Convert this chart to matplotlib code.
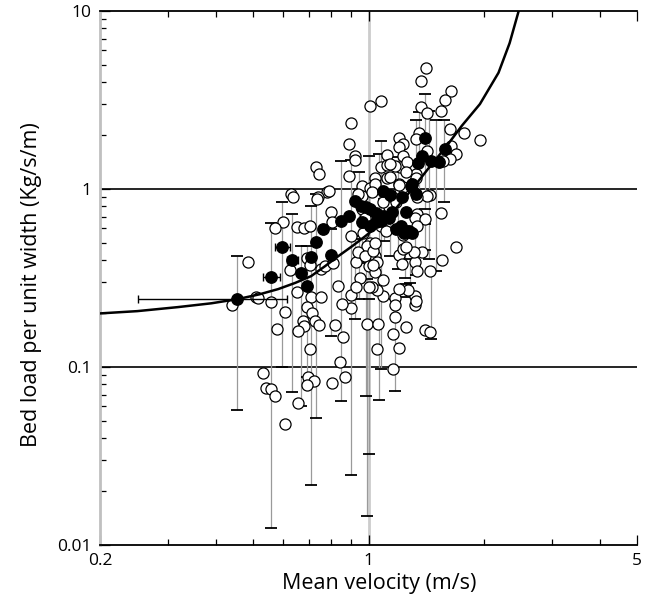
import matplotlib
matplotlib.use("Agg")
import matplotlib.pyplot as plt
import numpy as np

plt.rcParams['font.family'] = ['Open Sans', 'DejaVu Sans']

# open circles: mean velocity (m/s), bed load (kg/s/m)
open_vel = [1.41, 1.37, 1.64, 1.58, 1.08, 1.01, 1.37, 1.42, 1.54, 0.90,
            1.63, 1.77, 1.95, 1.35, 1.33, 1.20, 1.23, 1.20, 0.89, 0.92,
            0.925, 1.115, 1.42, 1.23, 1.64, 1.69, 1.63, 1.56, 1.21, 1.26,
            1.17, 0.73, 0.745, 0.89, 1.075, 1.115, 1.14, 1.12, 1.04, 1.33,
            1.33, 1.25, 0.96, 1.01, 1.04, 1.135, 1.20, 1.21, 0.78, 0.74,
            0.63, 0.637, 0.735, 0.80, 0.805, 0.60, 0.57, 0.65, 0.68, 0.705,
            1.45, 1.42, 1.34, 1.23, 1.20, 0.96, 1.02, 0.79, 1.15, 1.13,
            0.96, 0.98, 0.90, 0.965, 1.075, 1.11, 1.26, 1.34, 1.32, 1.40,
            1.34, 1.54, 1.69, 1.55, 0.93, 1.01, 0.99, 1.04, 1.05, 0.94,
            1.20, 1.22, 1.32, 1.375, 1.23, 0.486, 0.69, 0.705, 0.75, 0.77,
            0.81, 0.98, 1.00, 1.34, 1.45, 0.95, 1.04, 0.625, 0.51, 0.516,
            0.44, 0.558, 0.607, 0.65, 0.71, 0.754, 0.835, 0.69, 0.714, 0.677,
            0.68, 0.727, 0.745, 0.657, 0.578, 0.706, 0.82, 0.86, 0.845, 0.90,
            0.90, 0.93, 0.99, 1.06, 1.09, 1.17, 1.17, 1.17, 1.155, 1.25,
            1.20, 1.05, 1.16, 1.40, 1.45, 1.32, 1.32, 0.532, 0.542, 0.558,
            0.572, 0.657, 0.607, 0.697, 0.72, 0.69, 0.805, 0.87, 1.265, 1.326,
            1.05, 1.02, 1.09, 0.855, 1.00, 0.94, 1.09, 1.18, 1.03, 1.03,
            1.31, 1.25, 1.20, 1.04, 1.23]
open_load = [4.79, 4.04, 3.55, 3.16, 3.12, 2.93, 2.89, 2.67, 2.74, 2.35,
             2.17, 2.06, 1.89, 2.06, 1.91, 1.94, 1.79, 1.72, 1.79, 1.53,
             1.46, 1.55, 1.64, 1.53, 1.75, 1.57, 1.47, 1.44, 1.33, 1.42,
             1.35, 1.33, 1.21, 1.18, 1.33, 1.36, 1.38, 1.15, 1.15, 1.21,
             1.15, 1.25, 1.04, 1.01, 1.07, 1.17, 1.07, 1.00, 0.96, 0.90,
             0.94, 0.90, 0.88, 0.74, 0.65, 0.65, 0.60, 0.61, 0.60, 0.62,
             0.925, 0.91, 0.90, 1.03, 1.05, 0.91, 0.96, 0.975, 0.845, 0.79,
             0.77, 0.69, 0.545, 0.565, 0.62, 0.58, 0.58, 0.72, 0.69, 0.68,
             0.62, 0.73, 0.47, 0.40, 0.39, 0.50, 0.48, 0.42, 0.39, 0.44,
             0.425, 0.38, 0.39, 0.44, 0.46, 0.39, 0.41, 0.375, 0.355, 0.37,
             0.385, 0.42, 0.37, 0.345, 0.345, 0.315, 0.34, 0.35, 0.247, 0.244,
             0.223, 0.232, 0.204, 0.264, 0.247, 0.247, 0.285, 0.217, 0.20, 0.181,
             0.17, 0.181, 0.172, 0.159, 0.163, 0.126, 0.172, 0.148, 0.107, 0.253,
             0.215, 0.281, 0.174, 0.174, 0.25, 0.244, 0.223, 0.191, 0.153, 0.168,
             0.128, 0.126, 0.098, 0.161, 0.157, 0.25, 0.223, 0.0925, 0.076, 0.0754,
             0.069, 0.063, 0.048, 0.088, 0.083, 0.0795, 0.081, 0.088, 0.27, 0.235,
             0.27, 0.28, 0.31, 0.226, 0.281, 0.94, 0.845, 0.845, 0.45, 0.375,
             0.443, 0.47, 0.274, 0.50, 0.55]

# filled circles
fill_vel = [0.455, 0.558, 0.596, 0.633, 0.669, 0.693, 0.710, 0.732, 0.763, 0.80,
            0.85, 0.892, 0.925, 0.954, 0.983, 1.012, 1.049, 0.96, 1.012, 1.049,
            1.081, 1.094, 1.128, 1.148, 1.094, 1.14, 1.219, 1.287, 1.326, 1.176,
            1.25, 1.212, 1.234, 1.272, 1.295, 1.40, 1.342, 1.374, 1.452, 1.523,
            1.578, 1.30]
fill_load = [0.241, 0.32, 0.472, 0.399, 0.337, 0.285, 0.415, 0.504, 0.596, 0.426,
             0.661, 0.705, 0.856, 0.803, 0.792, 0.772, 0.733, 0.652, 0.62, 0.652,
             0.661, 0.705, 0.687, 0.742, 0.975, 0.925, 0.902, 1.04, 0.937, 0.596,
             0.742, 0.62, 0.566, 0.58, 0.566, 1.935, 1.40, 1.53, 1.436, 1.418,
             1.68, 1.07]

# horizontal error bars on filled points
hbar_load = [0.241, 0.32, 0.472, 0.399]
hbar_lo = [0.251, 0.532, 0.571, 0.614]
hbar_hi = [0.615, 0.589, 0.625, 0.657]

# vertical error bars
vbar_vel = [0.455, 0.558, 0.596, 0.633, 0.669, 0.710, 0.732, 0.693, 0.80, 0.898,
            0.85, 0.92, 0.942, 0.983, 0.99, 1.0, 1.006, 1.062, 1.081, 1.174,
            1.197, 1.456, 1.40, 1.33, 1.35, 1.44, 1.50, 1.576, 1.10, 1.14,
            1.244, 1.28, 1.32, 1.40, 1.33, 1.25, 0.962]
vbar_top = [0.42, 0.644, 0.845, 0.724, 0.478, 0.80, 0.937, 0.478, 0.596, 1.455,
            1.436, 0.524, 1.246, 0.46, 0.312, 1.53, 0.241, 1.57, 1.86, 0.241,
            1.51, 0.346, 3.42, 2.44, 2.71, 2.74, 2.44, 2.44, 0.879, 0.772,
            0.46, 0.404, 0.596, 0.636, 0.431, 0.292, 0.544]
vbar_bot = [0.057, 0.0125, 0.10, 0.072, 0.060, 0.0217, 0.052, 0.088, 0.149, 0.0247,
            0.064, 0.186, 0.241, 0.069, 0.0145, 0.404, 0.0324, 0.065, 0.0976, 0.0733,
            0.355, 0.144, 0.772, 1.14, 0.879, 0.404, 0.346, 0.845, 0.51, 0.42,
            0.316, 0.296, 0.46, 0.454, 0.329, 0.247, 0.384]

# fitted curve
curve_vel = [0.2, 0.25, 0.319, 0.39, 0.458, 0.52, 0.582, 0.645, 0.709, 0.77, 0.835,
             0.91, 0.982, 1.075, 1.175, 1.30, 1.43, 1.59, 1.748, 1.95, 2.18, 2.33, 2.46]
curve_load = [0.200, 0.206, 0.217, 0.228, 0.241, 0.256, 0.274, 0.297, 0.324, 0.368, 0.42,
              0.48, 0.544, 0.64, 0.772, 1.0, 1.30, 1.72, 2.26, 3.0, 4.5, 6.6, 10.0]

fig = plt.figure(figsize=(6.49, 6.10), dpi=100)
ax = fig.add_axes([100/649, 1-545/610, 537/649, 534/610])
ax.set_xscale('log')
ax.set_yscale('log')
ax.set_xlim(0.2, 5)
ax.set_ylim(0.01, 10)

ax.axhline(1, color='black', lw=1.2, zorder=1)
ax.axhline(0.1, color='black', lw=1.2, zorder=1)
ax.axvline(1, color='#cccccc', lw=2, zorder=1)

ax.vlines(vbar_vel, vbar_bot, vbar_top, color='#9a9a9a', lw=0.9, zorder=2)
ax.plot(vbar_vel, vbar_top, ls='none', marker='_', ms=8, mew=1.3, color='black', zorder=2)
ax.plot(vbar_vel, vbar_bot, ls='none', marker='_', ms=8, mew=1.3, color='black', zorder=2)

ax.plot(open_vel, open_load, ls='none', marker='o', ms=8, mfc='white',
        mec='black', mew=0.9, zorder=3)

ax.hlines(hbar_load, hbar_lo, hbar_hi, color='black', lw=1.0, zorder=4)
ax.plot(hbar_lo, hbar_load, ls='none', marker='|', ms=6, mew=1.0, color='black', zorder=4)
ax.plot(hbar_hi, hbar_load, ls='none', marker='|', ms=6, mew=1.0, color='black', zorder=4)
ax.plot(fill_vel, fill_load, ls='none', marker='o', ms=8.2, mfc='black',
        mec='black', zorder=5)

ax.plot(curve_vel, curve_load, color='black', lw=1.8, zorder=6)

ax.spines['right'].set_visible(False)
ax.spines['left'].set_color('#c0c0c0')
ax.spines['left'].set_linewidth(2)
ax.spines['top'].set_linewidth(1.3)
ax.spines['bottom'].set_linewidth(1.3)

ax.set_xticks([0.2, 1, 5])
ax.set_xticklabels(['0.2', '1', '5'])
ax.set_yticks([0.01, 0.1, 1, 10])
ax.set_yticklabels(['0.01', '0.1', '1', '10'])
ax.tick_params(which='both', direction='in', top=True, right=False, labelsize=12.5,
               color='black', width=0.9)
ax.tick_params(which='major', length=7, pad=6)
ax.tick_params(which='minor', length=4.5)
ax.xaxis.set_minor_formatter(plt.NullFormatter())
ax.yaxis.set_minor_formatter(plt.NullFormatter())

ax.set_xlabel('Mean velocity (m/s)', fontsize=15.5)
ax.set_ylabel('Bed load per unit width (Kg/s/m)', fontsize=15.5)
ax.xaxis.set_label_coords(0.52, -0.052)
ax.yaxis.set_label_coords(-0.108, 0.487)

fig.savefig('out.png', dpi=100)
